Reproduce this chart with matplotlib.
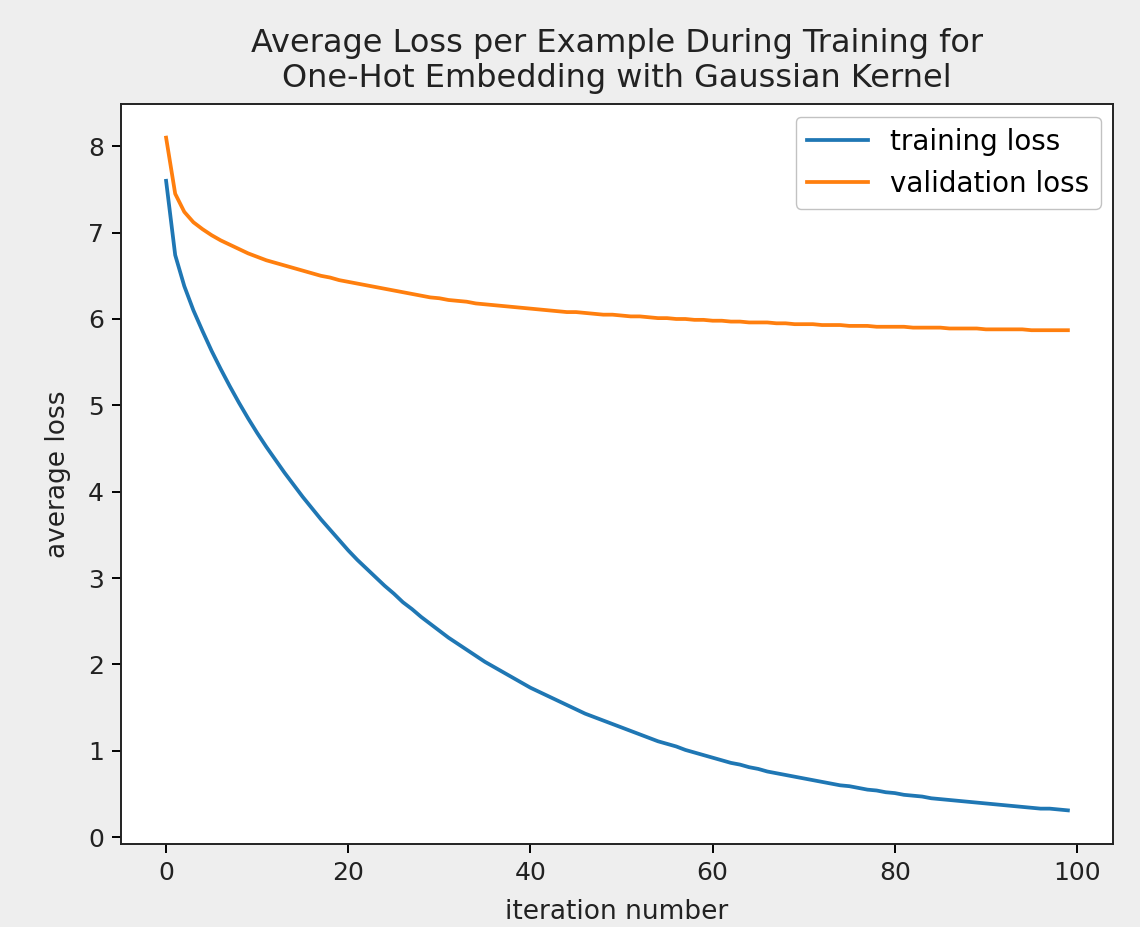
import matplotlib
matplotlib.use("Agg")
import matplotlib.pyplot as plt

# losses, one value per iteration (0..99)
iterations = list(range(100))

training_loss = [
    7.60, 6.74, 6.38, 6.10, 5.86, 5.63, 5.42, 5.22, 5.03, 4.85,
    4.68, 4.52, 4.37, 4.22, 4.08, 3.94, 3.81, 3.68, 3.56, 3.44,
    3.32, 3.21, 3.11, 3.01, 2.91, 2.82, 2.72, 2.64, 2.55, 2.47,
    2.39, 2.31, 2.24, 2.17, 2.10, 2.03, 1.97, 1.91, 1.85, 1.79,
    1.73, 1.68, 1.63, 1.58, 1.53, 1.48, 1.43, 1.39, 1.35, 1.31,
    1.27, 1.23, 1.19, 1.15, 1.11, 1.08, 1.05, 1.01, 0.98, 0.95,
    0.92, 0.89, 0.86, 0.84, 0.81, 0.79, 0.76, 0.74, 0.72, 0.70,
    0.68, 0.66, 0.64, 0.62, 0.60, 0.59, 0.57, 0.55, 0.54, 0.52,
    0.51, 0.49, 0.48, 0.47, 0.45, 0.44, 0.43, 0.42, 0.41, 0.40,
    0.39, 0.38, 0.37, 0.36, 0.35, 0.34, 0.33, 0.33, 0.32, 0.31,
]

validation_loss = [
    8.10, 7.45, 7.24, 7.12, 7.04, 6.97, 6.91, 6.86, 6.81, 6.76,
    6.72, 6.68, 6.65, 6.62, 6.59, 6.56, 6.53, 6.50, 6.48, 6.45,
    6.43, 6.41, 6.39, 6.37, 6.35, 6.33, 6.31, 6.29, 6.27, 6.25,
    6.24, 6.22, 6.21, 6.20, 6.18, 6.17, 6.16, 6.15, 6.14, 6.13,
    6.12, 6.11, 6.10, 6.09, 6.08, 6.08, 6.07, 6.06, 6.05, 6.05,
    6.04, 6.03, 6.03, 6.02, 6.01, 6.01, 6.00, 6.00, 5.99, 5.99,
    5.98, 5.98, 5.97, 5.97, 5.96, 5.96, 5.96, 5.95, 5.95, 5.94,
    5.94, 5.94, 5.93, 5.93, 5.93, 5.92, 5.92, 5.92, 5.91, 5.91,
    5.91, 5.91, 5.90, 5.90, 5.90, 5.90, 5.89, 5.89, 5.89, 5.89,
    5.88, 5.88, 5.88, 5.88, 5.88, 5.87, 5.87, 5.87, 5.87, 5.87,
]

title = "Average Loss per Example During Training for\nOne-Hot Embedding with Gaussian Kernel"

fig = plt.figure(figsize=(11.4, 9.27), dpi=100, facecolor="#eeeeee")
ax = fig.add_axes([121 / 1140, 1 - 844 / 927, 992 / 1140, 740 / 927])

ax.plot(iterations, training_loss, color="#1f77b4", lw=2.7, label="training loss")
ax.plot(iterations, validation_loss, color="#ff7f0e", lw=2.7, label="validation loss")

ax.set_title(title, fontsize=23, pad=12, color="#222222")
ax.set_xlabel("iteration number", fontsize=19, labelpad=10, color="#222222")
ax.set_ylabel("average loss", fontsize=19, labelpad=12, color="#222222")
ax.tick_params(labelsize=18, length=6.3, width=1.4, pad=6, labelcolor="#222222")
for s in ax.spines.values():
    s.set_linewidth(1.4)
    s.set_color("#222222")

ax.legend(loc="upper right", fontsize=20, edgecolor="0.7", fancybox=True,
          handlelength=2.2, borderaxespad=0.45)

fig.savefig("out.png", dpi=100, facecolor=fig.get_facecolor())
